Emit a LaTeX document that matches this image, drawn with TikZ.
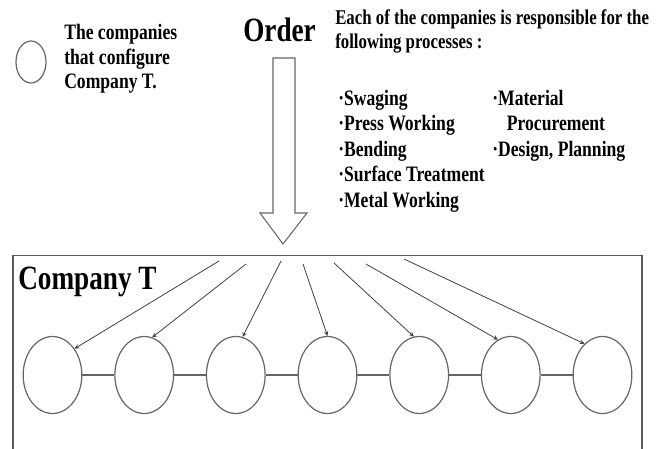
\documentclass[tikz,border=0pt]{standalone}
\usepackage{fontspec}
\setmainfont{Liberation Serif}[FakeStretch=0.8]
\usetikzlibrary{shapes.geometric}

\begin{document}
\begin{tikzpicture}[x=0.75pt, y=-0.75pt,
    firm/.style = {draw=black!60, line width=0.9pt, ellipse, inner sep=0pt,
                   minimum width=44pt, minimum height=57.75pt},
    chain/.style = {draw=black!60, line width=1pt},
    feed/.style = {->, >=stealth, draw=black!75, line width=0.6pt},
    txt/.style = {anchor=north west, inner sep=0pt, align=left,
                  font=\bfseries\fontsize{16.5pt}{18.5pt}\selectfont},
    big/.style = {anchor=base west, inner sep=0pt,
                  font=\bfseries\fontsize{25.5pt}{28pt}\selectfont}]

  \useasboundingbox (0,0) rectangle (670,449);

  % legend
  \node[firm, minimum width=22.5pt, minimum height=31.5pt] (key) at (31,62) {};
  \node[txt] (keytext) at (64,24) {The companies\\that configure\\Company T.};

  % order coming in
  \node[big] (order) at (243,42) {Order};
  \draw[draw=black!60, line width=0.8pt] (273,58) -- (295,58) -- (295,213) -- (307,213)
    -- (283,244) -- (260,213) -- (273,213) -- cycle;

  % what each company does
  \node[txt, font=\bfseries\fontsize{15.75pt}{18pt}\selectfont] (intro) at (335,9)
    {Each of the companies is responsible for the\\following processes :};
  \node[txt, font=\bfseries\fontsize{16.5pt}{19.1pt}\selectfont] (procA) at (338,90)
    {·Swaging\\·Press Working\\·Bending\\·Surface Treatment\\·Metal Working};
  \node[txt, font=\bfseries\fontsize{16.5pt}{19.1pt}\selectfont] (procB) at (492,90)
    {·Material\\\hspace*{11pt}Procurement\\·Design, Planning};

  % company T
  \draw[draw=black!65, line width=0.9pt] (13,449) -- (13,255.5) -- (642,255.5) -- (642,449);
  \node[big] (title) at (18,289) {Company T};

  \node[firm] (c1) at (52.5,375) {};
  \node[firm] (c2) at (144.2,375) {};
  \node[firm] (c3) at (235.8,375) {};
  \node[firm] (c4) at (327.5,375) {};
  \node[firm] (c5) at (419.2,375) {};
  \node[firm] (c6) at (510.8,375) {};
  \node[firm] (c7) at (602.5,375) {};

  \draw[chain] (c1) -- (c2);
  \draw[chain] (c2) -- (c3);
  \draw[chain] (c3) -- (c4);
  \draw[chain] (c4) -- (c5);
  \draw[chain] (c5) -- (c6);
  \draw[chain] (c6) -- (c7);

  % order split over the companies
  \coordinate (s1) at (219,261);
  \coordinate (s2) at (246,264);
  \coordinate (s3) at (281,261);
  \coordinate (s4) at (303,264);
  \coordinate (s5) at (334,263);
  \coordinate (s6) at (366,264);
  \coordinate (s7) at (404,259);

  \draw[feed] (s1) -- (c1.50);
  \draw[feed] (s2) -- (c2.78);
  \draw[feed] (s3) -- (c3.80);
  \draw[feed] (s4) -- (c4.90);
  \draw[feed] (s5) -- (c5.98);
  \draw[feed] (s6) -- (c6.110);
  \draw[feed] (s7) -- (c7.120);
\end{tikzpicture}
\end{document}
